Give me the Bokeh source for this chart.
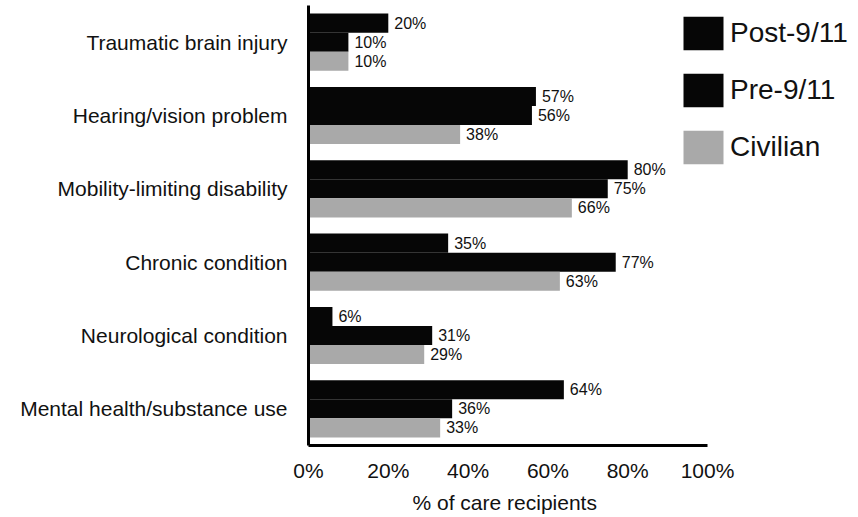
from bokeh.plotting import figure
from bokeh.models import (ColumnDataSource, FactorRange, Range1d, Legend, LegendItem,
                          PrintfTickFormatter, FixedTicker, Title)
from bokeh.transform import dodge
from bokeh.core.properties import value
from bokeh.embed import file_html
from bokeh.resources import INLINE

# ---- data ----
categories = ["Traumatic brain injury", "Hearing/vision problem",
              "Mobility-limiting disability", "Chronic condition",
              "Neurological condition", "Mental health/substance use"]
series_names = ["Post-9/11", "Pre-9/11", "Civilian"]
post_911 = [20, 57, 80, 35, 6, 64]
pre_911 = [10, 56, 75, 77, 31, 36]
civilian = [10, 38, 66, 63, 29, 33]
x_ticks = [0, 20, 40, 60, 80, 100]
x_title = "% of care recipients"

FONT = "Liberation Sans"
TXT = "#111111"
BLACK = "#060606"
GRAY = "#a9a9a9"

src = ColumnDataSource(dict(
    cat=categories,
    post=post_911, pre=pre_911, civ=civilian,
    post_lbl=[f"{v}%" for v in post_911],
    pre_lbl=[f"{v}%" for v in pre_911],
    civ_lbl=[f"{v}%" for v in civilian],
))

W, H = 858, 517
FL, FR_100, FT, FB = 308, 707, 5, 445   # frame geometry (px)
x_end = 100 * (W - FL) / (FR_100 - FL)

p = figure(width=W, height=H, output_backend="svg", toolbar_location=None,
           y_range=FactorRange(factors=categories[::-1], range_padding=0),
           x_range=Range1d(0, x_end),
           min_border_left=FL, min_border_right=0,
           min_border_top=FT, min_border_bottom=H - FB)

BH = 0.26
specs = [("post", "post_lbl", BH, BLACK),
         ("pre", "pre_lbl", 0.0, BLACK),
         ("civ", "civ_lbl", -BH, GRAY)]
renderers = []
for col, lbl, off, color in specs:
    r = p.hbar(y=dodge("cat", off, range=p.y_range), left=0, right=col,
               height=BH, fill_color=color, line_color=None, source=src)
    renderers.append(r)
    p.text(x=col, y=dodge("cat", off, range=p.y_range), text=lbl, x_offset=6,
           text_baseline="middle", text_align="left", text_color=TXT,
           text_font=value(FONT), text_font_size="16px", source=src)

legend = Legend(items=[LegendItem(label=n, renderers=[r]) for n, r in zip(series_names, renderers)],
                location=(370, 277), orientation="vertical",
                glyph_width=50, glyph_height=42, label_height=42,
                label_standoff=2, spacing=15, padding=0, margin=0,
                border_line_color=None, background_fill_alpha=0,
                label_text_font=FONT, label_text_font_size="28px",
                label_text_color=TXT)
p.add_layout(legend, "center")

p.xgrid.visible = False
p.ygrid.visible = False
p.outline_line_color = None

p.xaxis.bounds = (0, 100)
p.xaxis.ticker = FixedTicker(ticks=x_ticks)
p.xaxis.formatter = PrintfTickFormatter(format="%d%%")
p.xaxis.major_tick_line_color = None
p.xaxis.minor_tick_line_color = None
p.xaxis.major_tick_out = 0
p.xaxis.major_tick_in = 0
p.xaxis.axis_line_width = 3
p.xaxis.axis_line_color = "black"
p.xaxis.major_label_text_font = FONT
p.xaxis.major_label_text_font_size = "21px"
p.xaxis.major_label_text_color = TXT
p.xaxis.major_label_standoff = 13

# axis title, centred under the 0-100 % span
p.add_layout(Title(text=x_title, align="left", offset=104, standoff=8,
                   text_font=FONT, text_font_size="21px", text_font_style="normal",
                   text_color=TXT), "below")

p.yaxis.major_tick_line_color = None
p.yaxis.minor_tick_line_color = None
p.yaxis.major_tick_out = 0
p.yaxis.major_tick_in = 0
p.yaxis.axis_line_width = 3
p.yaxis.axis_line_color = "black"
p.yaxis.major_label_text_font = FONT
p.yaxis.major_label_text_font_size = "21px"
p.yaxis.major_label_text_color = TXT
p.yaxis.major_label_standoff = 21

open("out.html", "w").write(file_html(p, INLINE))
